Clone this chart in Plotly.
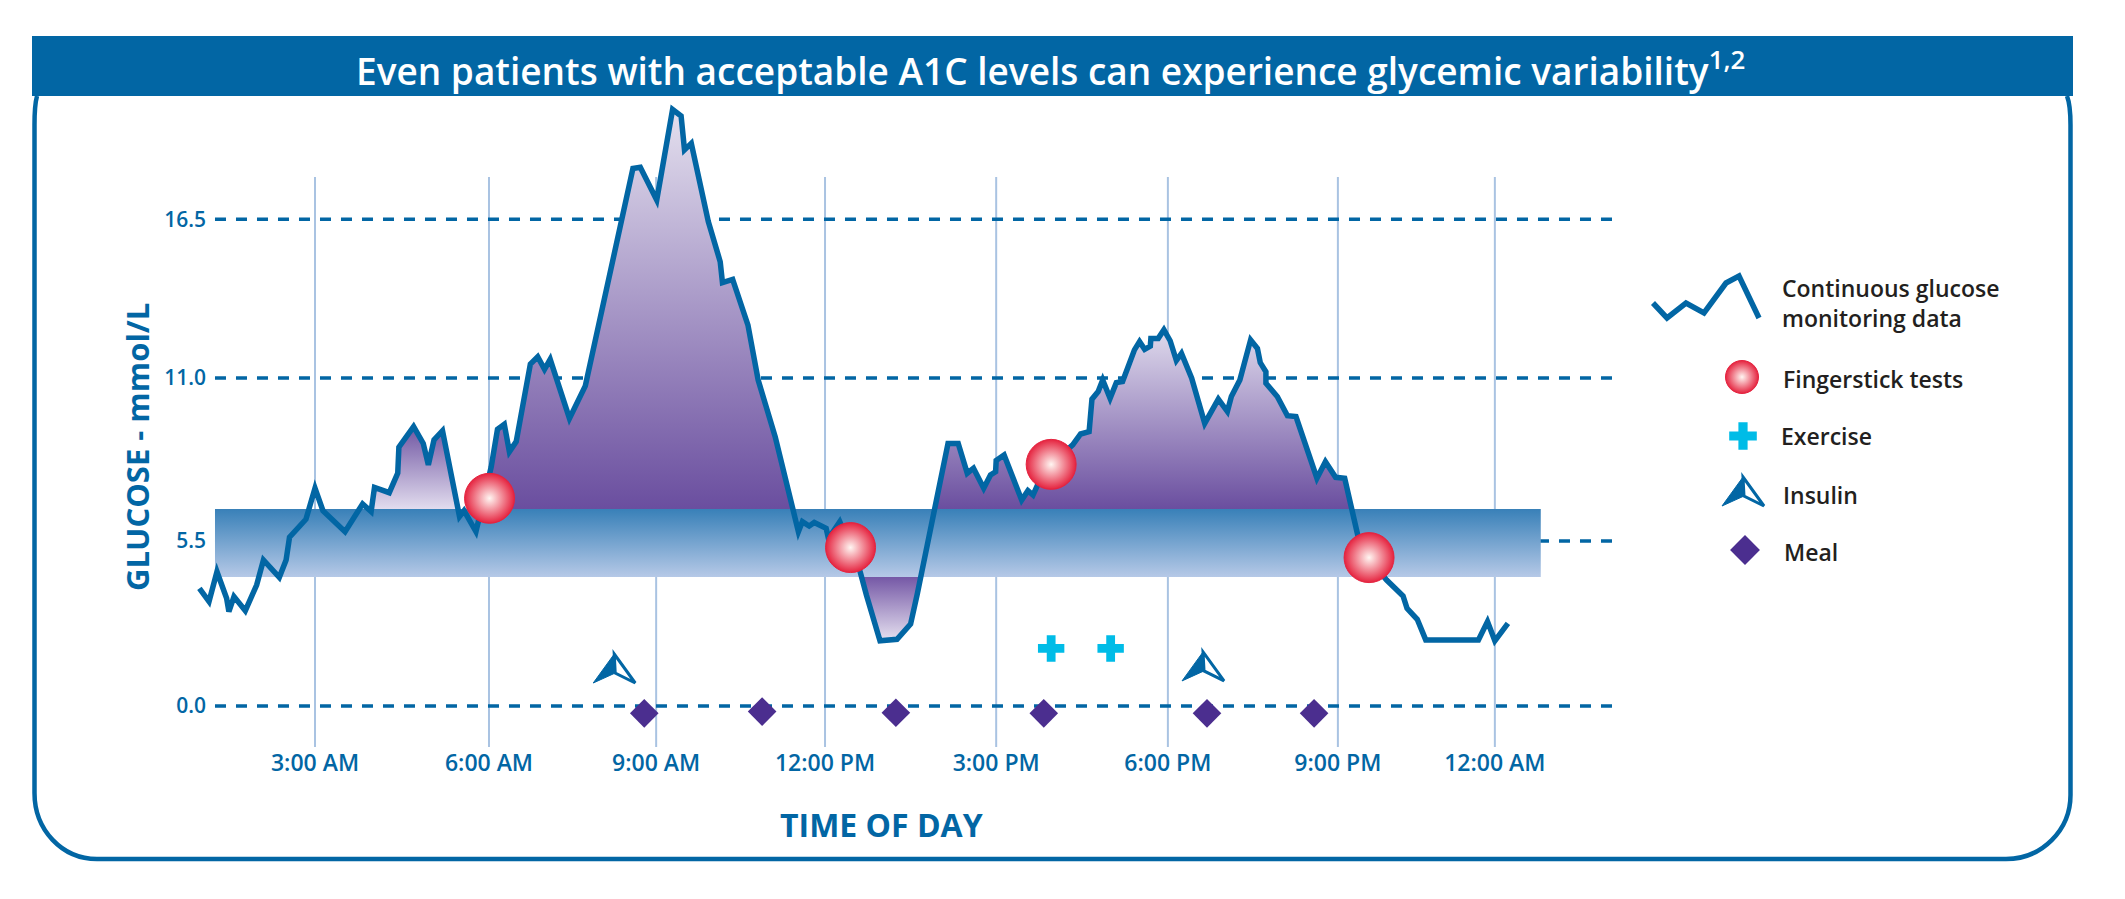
import plotly.graph_objects as go

W = 2125
H = 899
BLUE = '#0266a4'
FONT = 'Open Sans'

# curva de glucosa
cgm_hours = [
    0.96, 1.13, 1.27, 1.44, 1.48, 1.57, 1.77, 1.97, 2.09, 2.37, 2.49, 2.55, 2.84, 3.0, 3.14,
    3.53, 3.84, 3.99, 4.05, 4.31, 4.46, 4.48, 4.74, 4.91, 5.0, 5.1, 5.25, 5.55, 5.63, 5.84,
    6.11, 6.22, 6.34, 6.43, 6.55, 6.8, 6.93, 7.05, 7.15, 7.49, 7.77, 8.61, 8.74, 9.03, 9.31,
    9.46, 9.52, 9.64, 9.94, 10.15, 10.19, 10.37, 10.64, 10.82, 11.12, 11.53, 11.6, 11.72,
    11.81, 12.02, 12.06, 12.26, 12.45, 12.62, 12.73, 12.95, 12.97, 13.27, 13.51, 13.63, 13.94,
    14.06, 14.17, 14.35, 14.42, 14.51, 14.62, 14.8, 14.92, 15.01, 15.02, 15.16, 15.47, 15.58,
    15.67, 15.79, 16.0, 16.37, 16.51, 16.66, 16.71, 16.82, 16.9, 17.03, 17.14, 17.25, 17.36,
    17.46, 17.55, 17.64, 17.74, 17.75, 17.88, 17.98, 18.09, 18.2, 18.29, 18.47, 18.7, 18.81,
    18.94, 19.1, 19.17, 19.32, 19.51, 19.63, 19.68, 19.78, 19.78, 19.98, 20.16, 20.31, 20.56,
    20.68, 20.83, 21.01, 21.17, 21.37, 21.46, 21.91, 22.2, 22.27, 22.45, 22.6, 23.53, 23.69,
    23.82, 24.05,
]
cgm_values = [
    3.99, 3.54, 4.55, 3.65, 3.2, 3.71, 3.23, 4.1, 4.95, 4.36, 4.95, 5.72, 6.33, 7.38, 6.62,
    5.91, 6.85, 6.59, 7.41, 7.23, 7.89, 8.77, 9.47, 8.9, 8.17, 9.02, 9.33, 6.42, 6.62, 5.91,
    8.11, 9.38, 9.55, 8.62, 8.96, 11.59, 11.84, 11.41, 11.75, 9.75, 10.85, 18.22, 18.26, 17.15,
    20.22, 20.0, 18.85, 19.07, 16.42, 15.06, 14.35, 14.46, 12.91, 11.05, 9.13, 5.91, 6.25, 6.1,
    6.22, 6.02, 5.68, 6.25, 5.4, 4.55, 3.76, 2.46, 2.21, 2.26, 2.78, 3.82, 6.76,
    8.0, 8.9, 8.9, 8.51, 7.89, 8.06, 7.38, 7.83, 7.94, 8.32, 8.51, 6.98, 7.3,
    7.15, 7.66, 8.2, 8.85, 9.22, 9.3, 10.4, 10.66, 11.05, 10.43, 10.96, 11.0, 11.56,
    12.07, 12.35, 12.09, 12.2, 12.46, 12.46, 12.75, 12.38, 11.71, 11.95, 11.11, 9.58, 9.92,
    10.4, 9.98, 10.49, 11.05, 12.41, 12.12, 11.64, 11.33, 10.94, 10.49, 9.84, 9.81, 8.45,
    7.72, 8.28, 7.75, 7.72, 5.97, 5.29, 4.27, 3.73, 3.31, 2.94, 2.24, 2.24, 2.86,
    2.21, 2.8,
]

finger_hours = [6.08, 12.45, 15.99, 21.6]
finger_values = [7.04, 5.37, 8.19, 5.03]
exercise_hours = [15.99, 17.04]
exercise_values = [1.95, 1.95]
insulin_hours = [8.28, 18.67]
insulin_values = [1.22, 1.29]
meal_hours = [8.81, 10.89, 13.25, 15.86, 18.74, 20.63]
meal_values = [-0.25, -0.19, -0.23, -0.25, -0.25, -0.25]

band_low = 4.37
band_high = 6.68
band_start = 1.235
band_end = 24.63

time_ticks = [3, 6.07, 9.02, 12, 15.02, 18.05, 21.05, 23.82]
time_labels = ['3:00 AM', '6:00 AM', '9:00 AM', '12:00 PM', '3:00 PM', '6:00 PM', '9:00 PM', '12:00 AM']
glucose_ticks = [0, 5.59, 11.12, 16.5]
glucose_labels = ['0.0', '5.5', '11.0', '16.5']

legend_labels = ['Continuous glucose<br>monitoring data', 'Fingerstick tests', 'Exercise', 'Insulin', 'Meal']

# limites de la rejilla
grid_left = 1.235
grid_right = 25.887
grid_bottom = -1.39
grid_top = 17.93


def area(h0, h1, level):
    # poligono entre la curva y el borde de la banda
    xs = [h0]
    ys = [level]
    for h, v in zip(cgm_hours, cgm_values):
        if h0 < h < h1:
            xs.append(h)
            ys.append(v)
    xs += [h1, h0]
    ys += [level, level]
    return xs, ys


def add_area(fig, h0, h1, level, low_color, high_color):
    xs, ys = area(h0, h1, level)
    fig.add_trace(go.Scatter(
        x=xs, y=ys, mode='lines', fill='toself', line=dict(width=0),
        fillgradient=dict(
            type='vertical',
            colorscale=[[0, low_color], [1, high_color]],
            start=min(ys), stop=max(ys)
        ),
        hoverinfo='skip'
    ))


def insulin_shapes(x, y, xref, yref):
    base = dict(type='path', xref=xref, yref=yref, xsizemode='pixel', ysizemode='pixel',
                xanchor=x, yanchor=y, layer='above')
    return [
        dict(base, path='M 0 16 L 21 -13 L 1 -3 Z', fillcolor='white', line=dict(color=BLUE, width=3)),
        dict(base, path='M 0 16 L -21 -13 L 1 -3 Z', fillcolor=BLUE, line=dict(color=BLUE, width=1)),
    ]


fig = go.Figure()

# zonas moradas
add_area(fig, 4.0, 5.55, band_high, '#e2dcee', '#6f55a2')
add_area(fig, 5.93, 11.43, band_high, '#6a4e9f', '#e4e0ee')
add_area(fig, 13.93, 21.29, band_high, '#6a4e9f', '#dfdaec')
add_area(fig, 12.645, 13.69, band_low, '#e6e1f0', '#7558a6')

# banda objetivo
fig.add_trace(go.Scatter(
    x=[band_start, band_end, band_end, band_start, band_start],
    y=[band_low, band_low, band_high, band_high, band_low],
    mode='lines', fill='toself', line=dict(width=0), hoverinfo='skip',
    fillgradient=dict(
        type='vertical',
        colorscale=[[0, '#b6c9e7'], [1, '#3880b8']],
        start=band_low, stop=band_high
    )
))

fig.add_trace(go.Scatter(
    x=cgm_hours, y=cgm_values, mode='lines',
    line=dict(color=BLUE, width=5.5)
))

finger_marker = dict(color='#e5233f', size=50, gradient=dict(type='radial', color='#fff6f2'),
                     line=dict(width=1, color='#e5233f'))
fig.add_trace(go.Scatter(x=finger_hours, y=finger_values, mode='markers', marker=finger_marker))
fig.add_trace(go.Scatter(x=exercise_hours, y=exercise_values, mode='markers',
                         marker=dict(color='#00bce7', size=22, symbol='cross', line=dict(width=0))))
fig.add_trace(go.Scatter(x=meal_hours, y=meal_values, mode='markers',
                         marker=dict(color='#4b2e8f', size=22, symbol='diamond', line=dict(width=0))))

# leyenda dibujada a mano sobre un segundo par de ejes en pixeles
fig.add_trace(go.Scatter(
    x=[1653, 1667, 1686, 1704, 1726, 1739, 1759], y=[303, 318, 303, 313, 283, 276, 318],
    xaxis='x2', yaxis='y2', mode='lines', line=dict(color=BLUE, width=5.5)
))
fig.add_trace(go.Scatter(x=[1742], y=[377], xaxis='x2', yaxis='y2', mode='markers',
                         marker=dict(finger_marker, size=33)))
fig.add_trace(go.Scatter(x=[1743], y=[436], xaxis='x2', yaxis='y2', mode='markers',
                         marker=dict(color='#00bce7', size=23, symbol='cross', line=dict(width=0))))
fig.add_trace(go.Scatter(x=[1745], y=[550], xaxis='x2', yaxis='y2', mode='markers',
                         marker=dict(color='#4b2e8f', size=23, symbol='diamond', line=dict(width=0))))

shapes = [
    dict(type='rect', xref='x2', yref='y2', x0=32, x1=2073, y0=36, y1=96,
         fillcolor=BLUE, line=dict(width=0), layer='below'),
    dict(type='path', xref='x2', yref='y2', layer='below', line=dict(color=BLUE, width=4.5),
         path='M 37 96 Q 34.5 105 34.5 125 L 34.5 793 C 34.5 830 62 859 97 859 L 2006 859 '
              'C 2042 859 2070.5 830 2070.5 795 L 2070.5 125 Q 2070.5 105 2067 96'),
]
# rejilla como lineas, el pico de la curva pasa por encima de ella
for t in time_ticks:
    shapes.append(dict(type='line', xref='x', yref='y', layer='below', x0=t, x1=t,
                       y0=grid_bottom, y1=grid_top, line=dict(color='#a9c3e2', width=2)))
for g in glucose_ticks:
    shapes.append(dict(type='line', xref='x', yref='y', layer='below', x0=grid_left, x1=grid_right,
                       y0=g, y1=g, line=dict(color=BLUE, width=3.5, dash='11px,10px')))
for x, y in zip(insulin_hours, insulin_values):
    shapes += insulin_shapes(x, y, 'x', 'y')
shapes += insulin_shapes(1743, 493, 'x2', 'y2')

annotations = [
    dict(text='Even patients with acceptable A1C levels can experience glycemic variability<sup>1,2</sup>',
         x=1050, y=68, font=dict(color='white', size=37, family=FONT, weight=600)),
    dict(text='GLUCOSE - mmol/L', x=137, y=447, textangle=-90,
         font=dict(color=BLUE, size=31, family=FONT, weight=700)),
    dict(text='TIME OF DAY', x=881, y=824, font=dict(color=BLUE, size=32, family=FONT, weight=700)),
]
legend_x = [1780, 1781, 1779, 1781, 1782]
legend_y = [303, 379, 436, 495, 552]
for label, x, y in zip(legend_labels, legend_x, legend_y):
    annotations.append(dict(text=label, x=x, y=y, xanchor='left', align='left',
                            font=dict(color='#231f20', size=23, family=FONT, weight=600)))
for a in annotations:
    a.update(xref='x2', yref='y2', showarrow=False)

fig.update_layout(
    width=W,
    height=H,
    margin=dict(l=0, r=0, t=0, b=0),
    showlegend=False,
    hovermode=False,
    plot_bgcolor='rgba(0,0,0,0)',
    paper_bgcolor='white',
    shapes=shapes,
    annotations=annotations,
    xaxis=dict(
        domain=[190 / W, 1612 / W],
        range=[0.794, 25.887],
        tickmode='array', tickvals=time_ticks, ticktext=time_labels,
        tickfont=dict(color=BLUE, size=23, family=FONT, weight=600),
        ticklen=0, showline=False, zeroline=False, automargin=False, showgrid=False,
        anchor='y'
    ),
    yaxis=dict(
        domain=[1 - 747 / H, 1 - 95 / H],
        range=[-1.39, 20.71],
        tickmode='array', tickvals=glucose_ticks, ticktext=glucose_labels,
        tickfont=dict(color=BLUE, size=21, family=FONT, weight=600),
        ticklen=0, showline=False, zeroline=False, automargin=False, showgrid=False,
        anchor='free', position=215 / W, ticklabelstandoff=9
    ),
    xaxis2=dict(domain=[0, 1], range=[0, W], visible=False, anchor='y2'),
    yaxis2=dict(domain=[0, 1], range=[H, 0], visible=False, anchor='x2'),
)

# puntas afiladas como en el original y sin margen de pagina
post = ("document.body.style.margin='0';"
        "var s=document.createElement('style');"
        "s.textContent='.js-line{stroke-linejoin:miter !important;stroke-miterlimit:4 !important}';"
        "document.head.appendChild(s);")
fig.write_html("out.html", post_script=post, config={'displayModeBar': False})
